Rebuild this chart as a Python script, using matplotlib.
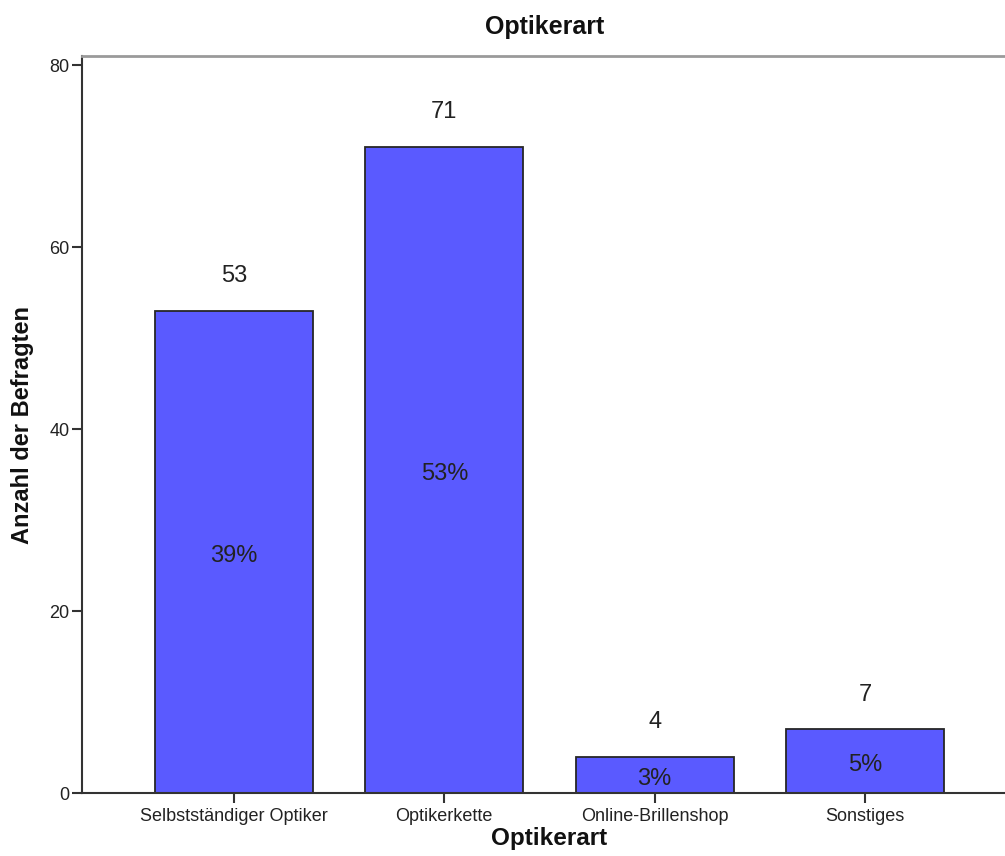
import matplotlib
matplotlib.use('Agg')
import matplotlib.pyplot as plt

# Survey counts per optician type
categories = ['Selbstständiger Optiker', 'Optikerkette', 'Online-Brillenshop', 'Sonstiges']
counts = [53, 71, 4, 7]
percents = [39, 53, 3, 5]

BAR_COLOR = '#5a5aff'
EDGE = '#262626'
TEXT = '#222222'

plt.rcParams['font.family'] = ['Liberation Sans', 'DejaVu Sans']

fig = plt.figure(figsize=(10.05, 8.56), dpi=100, facecolor='white')
ax = fig.add_axes([82 / 1005, 63 / 856, 935 / 1005, 737 / 856])

x = list(range(len(categories)))
ax.bar(x, counts, width=0.75, color=BAR_COLOR, edgecolor=EDGE, linewidth=1.3, zorder=2)

# count above each bar, share of respondents in the middle
for xi, c, p in zip(x, counts, percents):
    ax.annotate(str(c), (xi, c), xytext=(0, 25), textcoords='offset points',
                ha='center', va='center', fontsize=17, color=TEXT)
    ax.annotate(f'{p}%', (xi, c / 2), xytext=(0, -3), textcoords='offset points',
                ha='center', va='center', fontsize=17, color=TEXT)

ax.set_xlim(-0.722, 3.722)
ax.set_ylim(0, 81)
ax.set_yticks([0, 20, 40, 60, 80])
ax.set_xticks(x)
ax.set_xticklabels(categories)

ax.tick_params(axis='both', direction='out', length=7, width=1.5, colors='#333333',
               labelsize=13, labelcolor=TEXT)
ax.tick_params(axis='y', pad=2)
ax.tick_params(axis='x', pad=4)

for side in ['left', 'bottom']:
    ax.spines[side].set_color('#333333')
    ax.spines[side].set_linewidth(1.5)
ax.spines['top'].set_color('#9a9a9a')
ax.spines['top'].set_linewidth(2)
ax.spines['right'].set_visible(False)

ax.set_xlabel('Optikerart', fontsize=17.5, fontweight='bold', color='#111111', labelpad=1)
ax.set_ylabel('Anzahl der Befragten', fontsize=17, fontweight='bold', color='#111111')
ax.yaxis.set_label_coords(-(82 - 22) / 935, 0.5)
ax.yaxis.label.set_verticalalignment('center')

fig.text(545 / 1005, 1 - 27 / 856, 'Optikerart', ha='center', va='center',
         fontsize=18, fontweight='bold', color='#111111')

fig.savefig('out.png', dpi=100, facecolor='white')
